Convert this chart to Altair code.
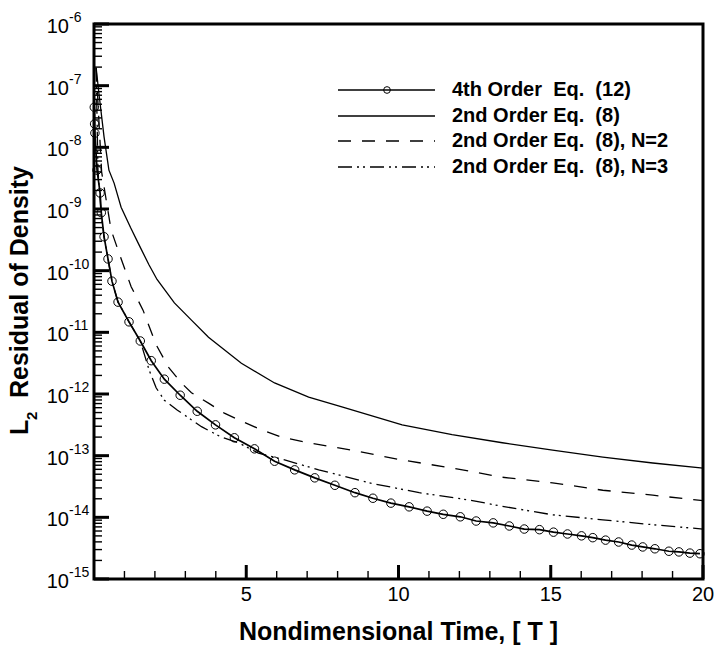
import altair as alt
import pandas as pd

# ---------------- data ----------------
# 4th Order Eq. (12)  (circles)
t_4th = [0.01, 0.02, 0.03, 0.10, 0.20, 0.24, 0.33, 0.46, 0.59, 0.79, 1.15, 1.52, 1.88, 2.31,
         2.83, 3.39, 3.99, 4.61, 5.27, 5.93, 6.59, 7.25, 7.91, 8.57, 9.16, 9.75, 10.35, 10.94,
         11.47, 12.03, 12.55, 13.11, 13.64, 14.13, 14.63, 15.09, 15.55, 16.01, 16.38, 16.80,
         17.23, 17.66, 18.02, 18.42, 18.88, 19.21, 19.57, 19.90]
r_4th = [4.47e-8, 2.40e-8, 1.70e-8, 4.27e-9, 1.82e-9, 8.7e-10, 3.55e-10, 1.55e-10, 6.76e-11,
         3.09e-11, 1.48e-11, 7.24e-12, 3.47e-12, 1.74e-12, 9.55e-13, 5.25e-13, 3.16e-13,
         1.95e-13, 1.29e-13, 8.13e-14, 5.89e-14, 4.37e-14, 3.31e-14, 2.51e-14, 2.04e-14,
         1.70e-14, 1.48e-14, 1.26e-14, 1.12e-14, 1.02e-14, 8.71e-15, 8.13e-15, 7.24e-15,
         6.46e-15, 6.31e-15, 5.75e-15, 5.37e-15, 5.01e-15, 4.68e-15, 4.27e-15, 3.98e-15,
         3.55e-15, 3.31e-15, 3.09e-15, 2.82e-15, 2.75e-15, 2.63e-15, 2.57e-15]

# 2nd Order Eq. (8)
t_2nd = [0.07, 0.16, 0.33, 0.49, 0.66, 0.89, 1.20, 1.50, 1.80, 2.07, 2.64, 3.20, 3.76, 4.84,
         5.93, 7.05, 8.14, 10.12, 11.76, 13.41, 15.06, 16.71, 18.35, 20.0]
r_2nd = [1.95e-7, 7.6e-8, 1.48e-8, 4.27e-9, 2.63e-9, 1.07e-9, 5.0e-10, 2.5e-10, 1.26e-10,
         7.2e-11, 3.0e-11, 1.58e-11, 8.3e-12, 3.16e-12, 1.51e-12, 8.9e-13, 6.2e-13, 3.16e-13,
         2.19e-13, 1.62e-13, 1.23e-13, 9.5e-14, 7.6e-14, 6.3e-14]

# 2nd Order Eq. (8), N=2
t_n2 = [0.07, 0.25, 0.56, 0.82, 1.22, 1.61, 2.04, 2.44, 2.87, 3.20, 3.76, 4.28, 4.84, 5.50,
        6.16, 6.92, 8.47, 10.12, 11.76, 13.41, 15.06, 16.71, 18.35, 20.0]
r_n2 = [1.95e-7, 4.0e-9, 4.6e-10, 1.95e-10, 5.5e-11, 2.29e-11, 6.3e-12, 2.75e-12, 1.51e-12,
        1.05e-12, 7.1e-13, 4.9e-13, 3.63e-13, 2.63e-13, 2.0e-13, 1.66e-13, 1.23e-13, 8.5e-14,
        6.3e-14, 4.47e-14, 3.63e-14, 2.75e-14, 2.29e-14, 1.86e-14]

# 2nd Order Eq. (8), N=3
t_n3 = [0.07, 0.13, 0.23, 0.33, 0.46, 0.59, 0.79, 1.15, 1.52, 1.81, 2.04, 2.31, 2.73, 3.53,
        4.18, 4.74, 5.40, 6.26, 7.38, 9.03, 10.68, 12.32, 13.41, 15.06, 16.71, 18.35, 20.0]
r_n3 = [1.95e-7, 4.27e-9, 8.7e-10, 3.55e-10, 1.55e-10, 6.76e-11, 3.09e-11, 1.48e-11, 7.24e-12,
        2.45e-12, 1.26e-12, 7.94e-13, 5.50e-13, 2.95e-13, 2.0e-13, 1.62e-13, 1.10e-13, 8.51e-14,
        5.89e-14, 3.63e-14, 2.51e-14, 1.91e-14, 1.51e-14, 1.10e-14, 9.12e-15, 7.59e-15, 6.46e-15]

legend_labels = ["4th Order\u00a0 Eq.\u00a0 (12)", "2nd Order Eq.\u00a0 (8)",
                 "2nd Order Eq.\u00a0 (8), N=2", "2nd Order Eq.\u00a0 (8), N=3"]

x_major = [5, 10, 15, 20]
x_major_labels = ["5", "10", "15", "20"]
x_minor = [1, 2, 3, 4, 6, 7, 8, 9, 11, 12, 13, 14, 16, 17, 18, 19]
y_exponents = [-6, -7, -8, -9, -10, -11, -12, -13, -14, -15]
y_mantissas = [2, 3, 4, 5, 6, 7, 8, 9]

x_title = "Nondimensional Time, [ T ]"
y_title_parts = ["L", "2", "Residual of Density"]

# ---------------- chart ----------------
W, H = 609, 555
FONT = "Liberation Sans"
xs = alt.Scale(domain=[0, 20], nice=False, zero=False)
ys = alt.Scale(type="log", domain=[1e-15, 1e-6], nice=False)


def curve(t, r, width, dash=None):
    df = pd.DataFrame({"t": t, "r": r, "i": list(range(len(t)))})
    kw = dict(color="black", strokeWidth=width)
    if dash is not None:
        kw["strokeDash"] = dash
    return alt.Chart(df).mark_line(**kw).encode(
        x=alt.X("t:Q", scale=xs, axis=None),
        y=alt.Y("r:Q", scale=ys, axis=None),
        order="i:Q",
    )


df4 = pd.DataFrame({"t": t_4th, "r": r_4th})
line4 = curve(t_4th, r_4th, 1.7)
pts4 = alt.Chart(df4).mark_point(shape="circle", filled=False, color="black", size=72,
                                 strokeWidth=1, opacity=1).encode(
    x=alt.X("t:Q", scale=xs, axis=None), y=alt.Y("r:Q", scale=ys, axis=None))
line2 = curve(t_2nd, r_2nd, 1.3)
lineN2 = curve(t_n2, r_n2, 1.3, [13, 11])
lineN3 = curve(t_n3, r_n3, 1.3, [14, 5, 2, 4, 2, 5])

# ticks (inward) on left and bottom
ymaj = pd.DataFrame({"v": [10.0 ** e for e in y_exponents],
                     "e": [str(e) for e in y_exponents]})
ymin = pd.DataFrame({"v": [m * 10.0 ** e for e in y_exponents[1:] for m in y_mantissas]})
xmaj = pd.DataFrame({"v": x_major, "lab": x_major_labels})
xmin = pd.DataFrame({"v": x_minor})

ytick_major = alt.Chart(ymaj).mark_rule(color="black", strokeWidth=3).encode(
    y=alt.Y("v:Q", scale=ys, axis=None), x=alt.value(0), x2=alt.value(15))
ytick_minor = alt.Chart(ymin).mark_rule(color="black", strokeWidth=1.4).encode(
    y=alt.Y("v:Q", scale=ys, axis=None), x=alt.value(0), x2=alt.value(8))
xtick_major = alt.Chart(xmaj).mark_rule(color="black", strokeWidth=3).encode(
    x=alt.X("v:Q", scale=xs, axis=None), y=alt.value(H), y2=alt.value(H - 14))
xtick_minor = alt.Chart(xmin).mark_rule(color="black", strokeWidth=1.4).encode(
    x=alt.X("v:Q", scale=xs, axis=None), y=alt.value(H), y2=alt.value(H - 8))

# tick labels
ylab10 = alt.Chart(ymaj).mark_text(align="right", baseline="alphabetic", fontSize=20,
                                   font=FONT, dy=9, color="black").encode(
    y=alt.Y("v:Q", scale=ys, axis=None), x=alt.value(-25), text=alt.value("10"))
ylabexp = alt.Chart(ymaj).mark_text(align="left", baseline="alphabetic", fontSize=14,
                                    font=FONT, dy=-2, color="black").encode(
    y=alt.Y("v:Q", scale=ys, axis=None), x=alt.value(-25), text="e:N")
xlab = alt.Chart(xmaj).mark_text(align="center", baseline="alphabetic", fontSize=20,
                                 font=FONT, color="black").encode(
    x=alt.X("v:Q", scale=xs, axis=None), y=alt.value(H + 22), text="lab:N")

# axis titles
one = pd.DataFrame({"a": [0]})
xt = alt.Chart(one).mark_text(align="center", baseline="alphabetic", fontSize=25,
                              font=FONT, fontWeight="bold", color="black").encode(
    x=alt.value(W / 2), y=alt.value(H + 61), text=alt.value(x_title))
yt1 = alt.Chart(one).mark_text(align="left", baseline="alphabetic", fontSize=25, angle=270,
                               font=FONT, fontWeight="bold", color="black").encode(
    x=alt.value(-66), y=alt.value(411), text=alt.value(y_title_parts[0]))
yt2 = alt.Chart(one).mark_text(align="left", baseline="alphabetic", fontSize=15, angle=270,
                               font=FONT, fontWeight="bold", color="black").encode(
    x=alt.value(-57), y=alt.value(396), text=alt.value(y_title_parts[1]))
yt3 = alt.Chart(one).mark_text(align="left", baseline="alphabetic", fontSize=25, angle=270,
                               font=FONT, fontWeight="bold", color="black").encode(
    x=alt.value(-66), y=alt.value(374), text=alt.value(y_title_parts[2]))

# legend
leg_rows = [66, 92, 117, 143]
leg_dashes = [None, None, [13, 11], [14, 5, 2, 4, 2, 5]]
leg_layers = []
for lab, ry, dash in zip(legend_labels, leg_rows, leg_dashes):
    kw = dict(color="black", strokeWidth=1.3)
    if dash is not None:
        kw["strokeDash"] = dash
    leg_layers.append(alt.Chart(one).mark_rule(**kw).encode(
        x=alt.value(244), x2=alt.value(341), y=alt.value(ry)))
    leg_layers.append(alt.Chart(pd.DataFrame({"lab": [lab]})).mark_text(
        align="left", baseline="middle", fontSize=20, font=FONT, fontWeight="bold",
        color="black").encode(x=alt.value(358), y=alt.value(ry), text="lab:N"))
leg_layers.append(alt.Chart(one).mark_point(shape="circle", filled=False, color="black",
                                            size=45, strokeWidth=1, opacity=1).encode(
    x=alt.value(293), y=alt.value(leg_rows[0])))

chart = alt.layer(
    line2, lineN2, lineN3, line4, pts4,
    ylab10, ylabexp, xlab, xt, yt1, yt2, yt3, *leg_layers,
    ytick_minor, ytick_major, xtick_minor, xtick_major,
).properties(
    width=W, height=H,
    padding={"left": 94, "top": 24, "right": 12, "bottom": 66},
    autosize=alt.AutoSizeParams(type="none"),
    background="white",
).configure_view(stroke="black", strokeWidth=3)

chart.save("out.html", embed_options={"renderer": "svg", "actions": False})
